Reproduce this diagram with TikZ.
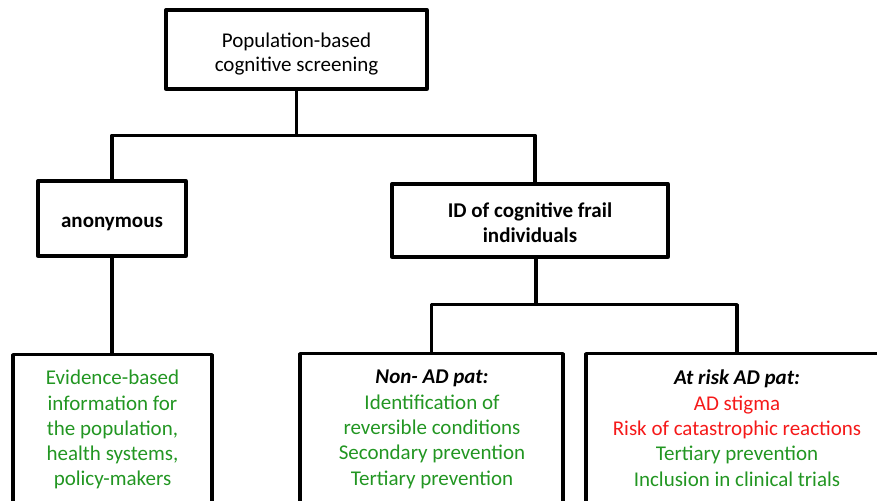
\documentclass[tikz,border=0pt]{standalone}
\usepackage{fontspec}
\setmainfont{Carlito}
\definecolor{tgreen}{RGB}{34,150,34}
\definecolor{tred}{RGB}{245,25,25}
\begin{document}
\begin{tikzpicture}[x=1pt,y=-1pt,
  box/.style={draw, line width=3.3pt, rectangle, inner sep=0pt, line join=round},
  conn/.style={line width=3.3pt, line join=round},
  txt/.style={font=\fontsize{21}{25.3}\selectfont, align=center, inner sep=0pt},
  btxt/.style={font=\fontsize{21}{25}\selectfont\bfseries, align=center, inner sep=0pt}]
\useasboundingbox (0,0) rectangle (877,500);
\clip (0,0) rectangle (877,500);
% boxes
\node[box, minimum width=261pt, minimum height=79pt] (top) at (296.5,49.5) {};
\node[box, minimum width=148pt, minimum height=75pt] (anon) at (112,218.5) {};
\node[box, minimum width=276pt, minimum height=73pt] (id) at (530,220.5) {};
\node[box, minimum width=199pt, minimum height=200pt, anchor=north] (ev) at (112.5,353) {};
\node[box, minimum width=263pt, minimum height=200pt, anchor=north] (nonad) at (431.5,352) {};
\node[box, minimum width=302pt, minimum height=200pt, anchor=north] (atrisk) at (737,352) {};
% texts
\node[txt, font=\fontsize{21}{24}\selectfont] (topt) at ([yshift=-5pt]top.center) {Population-based\\cognitive screening};
\node[btxt] (anont) at ([yshift=-5pt]anon.center) {anonymous};
\node[btxt] (idt) at ([yshift=-2.5pt]id.center) {ID of cognitive frail\\individuals};
\node[txt, text=tgreen, anchor=north] (evt) at (112.5,370) {Evidence-based\\information for\\the population,\\health systems,\\policy-makers};
\node[txt, anchor=north] (nonadt) at (432,370) {\textbf{\textit{Non- AD pat:}}\\\textcolor{tgreen}{Identification of}\\\textcolor{tgreen}{reversible conditions}\\\textcolor{tgreen}{Secondary prevention}\\\textcolor{tgreen}{Tertiary prevention}};
\node[txt, anchor=north] (atriskt) at (737,370) {\textbf{\textit{At risk AD pat:}}\\\textcolor{tred}{AD stigma}\\\textcolor{tred}{Risk of catastrophic reactions}\\\textcolor{tgreen}{Tertiary prevention}\\\textcolor{tgreen}{Inclusion in clinical trials}};
% connectors
\draw[conn] (top.south) -- ++(0,44.5) coordinate (j1);
\draw[conn] (anon.north) |- (j1) -| ([xshift=5pt]id.north);
\draw[conn] (anon.south) -- (anon.south |- ev.north);
\draw[conn] ([xshift=6pt]id.south) -- ++(0,46) coordinate (j2);
\draw[conn] (nonad.north) |- (j2) -| (atrisk.north);
\end{tikzpicture}
\end{document}
